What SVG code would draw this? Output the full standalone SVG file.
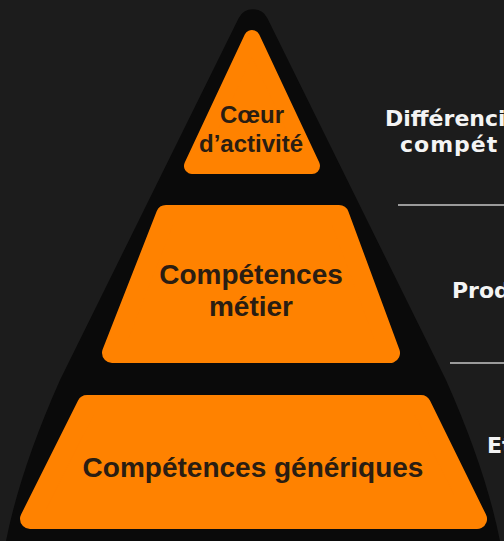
<svg xmlns="http://www.w3.org/2000/svg" width="504" height="541" viewBox="0 0 504 541">
  <style>
    .tier { fill: #ff8200; stroke: #ff8200; stroke-linejoin: round; }
    .lbl { font-family: "Liberation Sans", Arial, sans-serif; font-weight: bold; fill: #2a1d12; text-anchor: middle; }
    .side { font-family: "DejaVu Sans", "Liberation Sans", sans-serif; font-weight: bold; fill: #f4f4f4; }
    .rule { stroke: #9a9a9a; stroke-width: 2; }
  </style>
  <rect x="0" y="0" width="504" height="541" fill="#1c1c1c"/>
  <g id="pyramid">
    <path d="M 238.6,18.3 A 16 16 0 0 1 267.4,18.3 L 446,380 Q 486,470 500,541 L 6,541 Q 20,470 60,380 Z" fill="#0a0a0a"/>
  </g>
  <g id="coeur">
    <polygon class="tier" stroke-width="16" points="252,38 192,166 312,166"/>
    <text class="lbl" x="252" y="123" font-size="24">Cœur</text>
    <text class="lbl" x="251" y="152" font-size="24">d’activité</text>
  </g>
  <g id="metier">
    <polygon class="tier" stroke-width="20" points="166,215 339,215 390,353 112,353"/>
    <text class="lbl" x="251" y="284" font-size="28">Compétences</text>
    <text class="lbl" x="251" y="316" font-size="28">métier</text>
  </g>
  <g id="generiques">
    <polygon class="tier" stroke-width="20" points="87,405 421,405 477,519 30,519"/>
    <text class="lbl" x="253" y="477" font-size="28">Compétences génériques</text>
  </g>
  <g id="connectors">
    <line class="rule" x1="398" y1="205" x2="504" y2="205"/>
    <line class="rule" x1="450" y1="363" x2="504" y2="363"/>
  </g>
  <g id="side-labels">
    <text class="side" x="385" y="126" font-size="22">Différenci</text>
    <text class="side" x="400" y="152" font-size="22" letter-spacing="1">compét</text>
    <text class="side" x="452" y="298" font-size="22">Prod</text>
    <text class="side" x="487" y="453" font-size="22">Et</text>
  </g>
</svg>
